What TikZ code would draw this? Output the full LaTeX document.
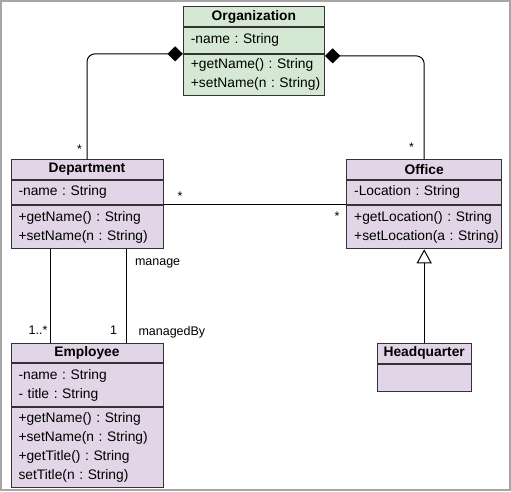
\documentclass[tikz,border=0pt]{standalone}
\usepackage{fontspec}
\setmainfont{Liberation Sans}
\usepackage{tikz}
\usetikzlibrary{positioning,arrows.meta}

\definecolor{orgfill}{HTML}{D5E8D4}
\definecolor{classfill}{HTML}{E1D5E7}
\definecolor{umlline}{HTML}{333333}
\newcommand{\umlfont}{\fontsize{13.8pt}{19pt}\selectfont\frenchspacing}
\newcommand{\lblfont}{\fontsize{12.5pt}{15pt}\selectfont}

\begin{document}
\begin{tikzpicture}[
    x=1pt, y=-1pt,
    classhead/.style={rectangle, draw=umlline, fill=classfill, line width=1pt, minimum width=#1, minimum height=19.5pt, inner sep=0pt, font=\umlfont\bfseries},
    classbody/.style={rectangle, draw=umlline, fill=classfill, line width=1pt, text width=#1, inner sep=0pt, align=left, font=\umlfont, execute at begin node={\leftskip=7.5pt}},
    lbl/.style={inner sep=0pt, font=\lblfont},
    comp/.style={{Diamond[length=15.5pt, width=15pt]}-, line width=1pt, rounded corners=8pt},
    assoc/.style={line width=1pt},
    gen/.style={-{Triangle[fill=white, length=14pt, width=15pt]}, line width=1pt}
]
    \useasboundingbox (0,0) rectangle (511,491);
    \draw[black!35, line width=1.5pt] (1,1) rectangle (510,490);

    % Organization
    \node[classhead=141pt, fill=orgfill] (org) at (253.9,16.6) {Organization};
    \node[classbody=141pt, fill=orgfill, minimum height=26pt, below=0pt of org] (org-a) {-name : String};
    \node[classbody=141pt, fill=orgfill, minimum height=41pt, below=0pt of org-a] (org-o) {+getName() : String\\+setName(n : String)};

    % Department
    \node[classhead=152pt] (dept) at (87,169.5) {Department};
    \node[classbody=152pt, minimum height=24pt, below=0pt of dept] (dept-a) {-name : String};
    \node[classbody=152pt, minimum height=43.5pt, below=0pt of dept-a] (dept-o) {+getName() : String\\+setName(n : String)};

    % Office
    \node[classhead=155pt] (office) at (424.2,169.5) {Office};
    \node[classbody=155pt, minimum height=24pt, below=0pt of office] (office-a) {-Location : String};
    \node[classbody=155pt, minimum height=43.5pt, below=0pt of office-a] (office-o) {+getLocation() : String\\+setLocation(a : String)};

    % Employee
    \node[classhead=152pt] (emp) at (87,353) {Employee};
    \node[classbody=152pt, minimum height=43pt, below=0pt of emp] (emp-a) {-name : String\\- title : String};
    \node[classbody=152pt, minimum height=80pt, below=0pt of emp-a] (emp-o) {+getName() : String\\+setName(n : String)\\+getTitle() : String\\setTitle(n : String)};

    % Headquarter
    \node[classhead=94pt] (hq) at (424.2,353.3) {Headquarter};
    \node[classbody=94pt, minimum height=27pt, below=0pt of hq] (hq-a) {};

    % Connectors
    \draw[comp] (org-a.south west) -| (dept.north)
        node[lbl, at end, anchor=base east, xshift=-4.6pt, yshift=5.5pt] {*};
    \draw[comp] ([yshift=-2pt]org-a.south east) -| (office.north)
        node[lbl, at end, anchor=base east, xshift=-9.7pt, yshift=8pt] {*};
    \draw[assoc] (dept-a.south east) -- (office-a.south west)
        node[lbl, at start, anchor=base west, xshift=13.6pt, yshift=4pt] {*}
        node[lbl, at end, anchor=base east, xshift=-6.3pt, yshift=-16pt] {*};
    \draw[assoc] ([xshift=-37pt]dept-o.south) -- ([xshift=-37pt]emp.north)
        node[lbl, at end, anchor=base east, xshift=-2pt, yshift=8pt] {1..*};
    \draw[assoc] ([xshift=39pt]dept-o.south) -- ([xshift=39pt]emp.north)
        node[lbl, at start, anchor=base west, xshift=8.5pt, yshift=-16pt] {manage}
        node[lbl, at end, anchor=base east, xshift=-8.5pt, yshift=8pt] {1}
        node[lbl, at end, anchor=base west, xshift=12pt, yshift=7pt] {managedBy};
    \draw[gen] (hq.north) -- (office-o.south);
\end{tikzpicture}
\end{document}
